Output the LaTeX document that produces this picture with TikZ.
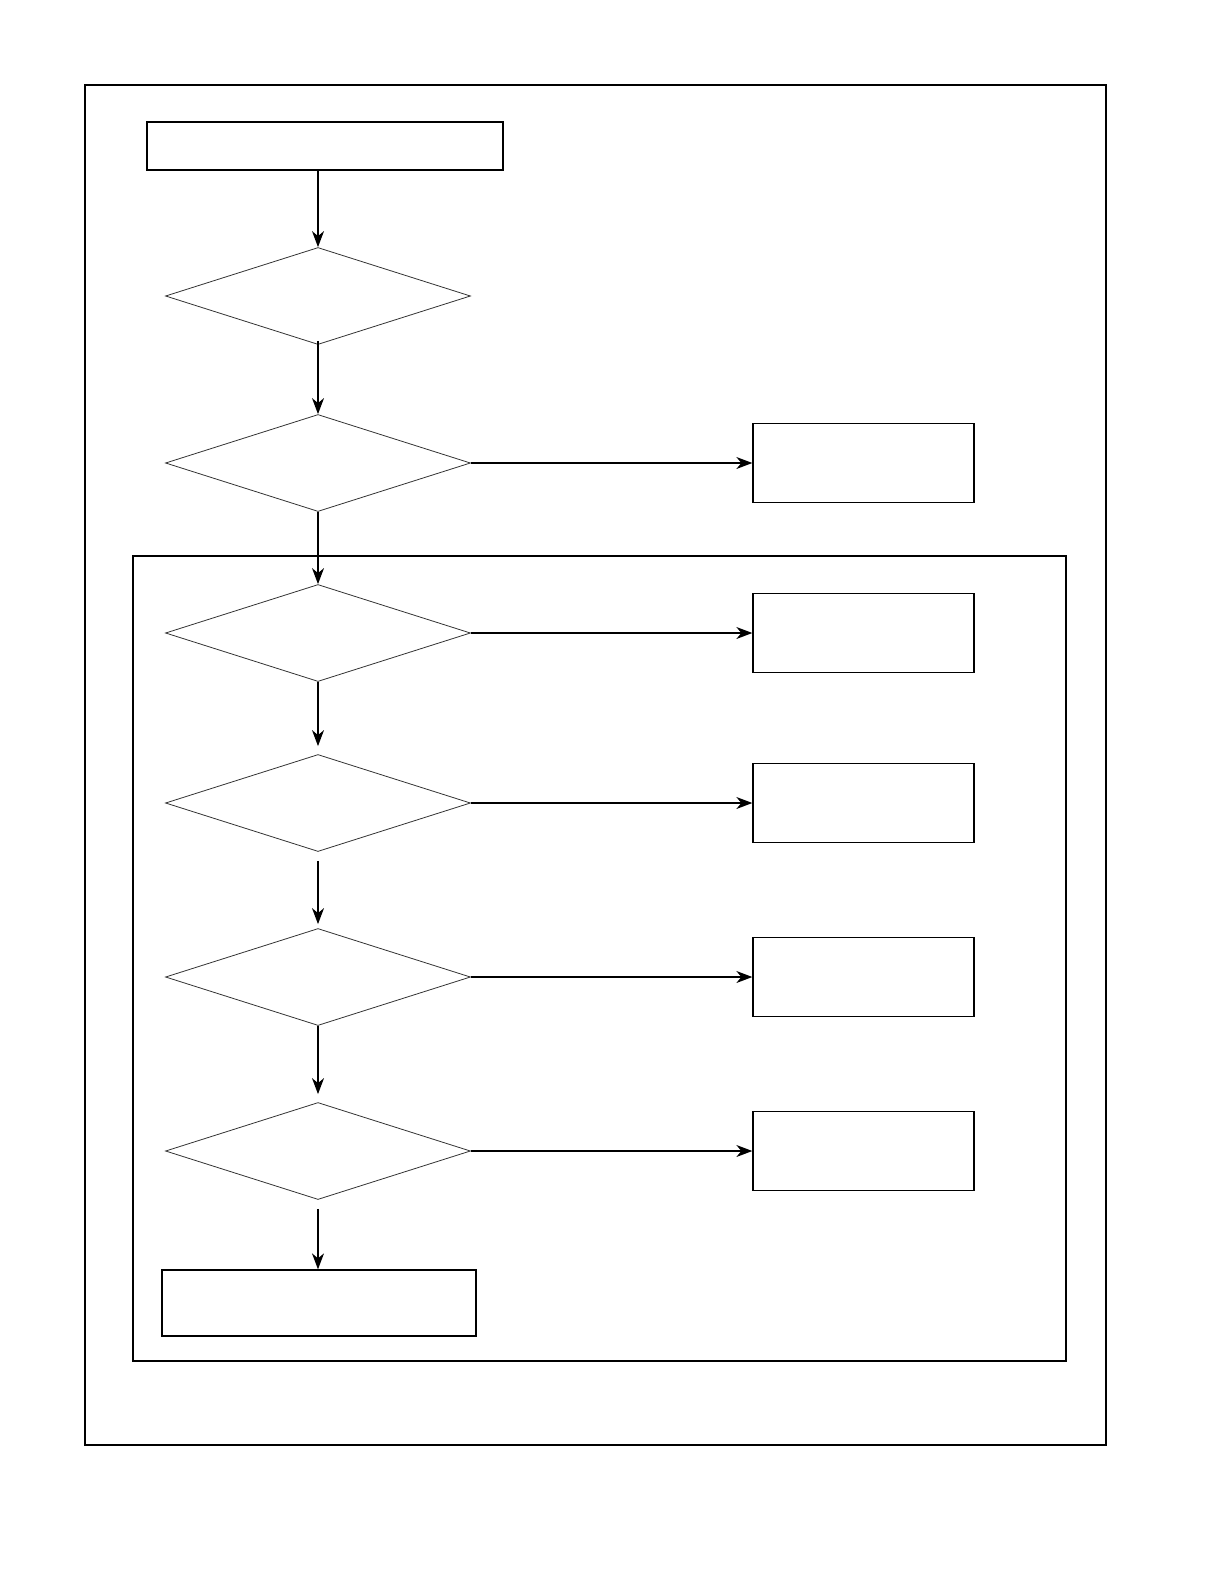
\documentclass[tikz,border=0pt]{standalone}
\usepackage{tikz}
\usetikzlibrary{shapes.geometric,arrows.meta}
\definecolor{gray}{rgb}{0.2,0.2,0.2}

\begin{document}
\begin{tikzpicture}[x=1pt,y=-1pt,
			caixa/.style={draw, rectangle, line width=1.3pt, inner sep=0pt},
			teste/.style={draw=gray, diamond, line width=0.8pt, inner sep=0pt, minimum width=305, minimum height=97},
			seta/.style={line width=1.3pt, arrows={-Stealth[length=16pt, width=12pt, inset=5pt]}}]
			\useasboundingbox (0,0) rectangle (1225,1585);
			% molduras
			\draw[line width=1.3pt] (85,85) rectangle (1106,1445);
			\draw[line width=1.3pt] (133,556) rectangle (1066,1361);
			% coluna principal
			\node[caixa, minimum width=356, minimum height=48] (inicio) at (325,146) {};
			\node[teste] (t1) at (318,296) {};
			\node[teste] (t2) at (318,463) {};
			\node[teste] (t3) at (318,633) {};
			\node[teste] (t4) at (318,803) {};
			\node[teste] (t5) at (318,977) {};
			\node[teste] (t6) at (318,1151) {};
			\node[caixa, minimum width=314, minimum height=66] (fim) at (319,1303) {};
			% saidas
			\node[caixa, minimum width=221, minimum height=79] (s2) at (863.5,463) {};
			\node[caixa, minimum width=221, minimum height=79] (s3) at (863.5,633) {};
			\node[caixa, minimum width=221, minimum height=79] (s4) at (863.5,803) {};
			\node[caixa, minimum width=221, minimum height=79] (s5) at (863.5,977) {};
			\node[caixa, minimum width=221, minimum height=79] (s6) at (863.5,1151) {};
			% setas
			\draw[seta] (inicio.south -| t1.north) -- (t1.north);
			\draw[seta, shorten <=-4pt] (t1.south) -- (t2.north);
			\draw[seta] (t2.south) -- (t3.north);
			\draw[seta, shorten >=8pt] (t3.south) -- (t4.north);
			\draw[seta, shorten <=9pt, shorten >=4pt] (t4.south) -- (t5.north);
			\draw[seta, shorten >=8pt] (t5.south) -- (t6.north);
			\draw[seta, shorten <=9pt] (t6.south) -- (t6.south |- fim.north);
			\draw[seta] (t2.east) -- (s2.west);
			\draw[seta] (t3.east) -- (s3.west);
			\draw[seta] (t4.east) -- (s4.west);
			\draw[seta] (t5.east) -- (s5.west);
			\draw[seta] (t6.east) -- (s6.west);
		\end{tikzpicture}
\end{document}
